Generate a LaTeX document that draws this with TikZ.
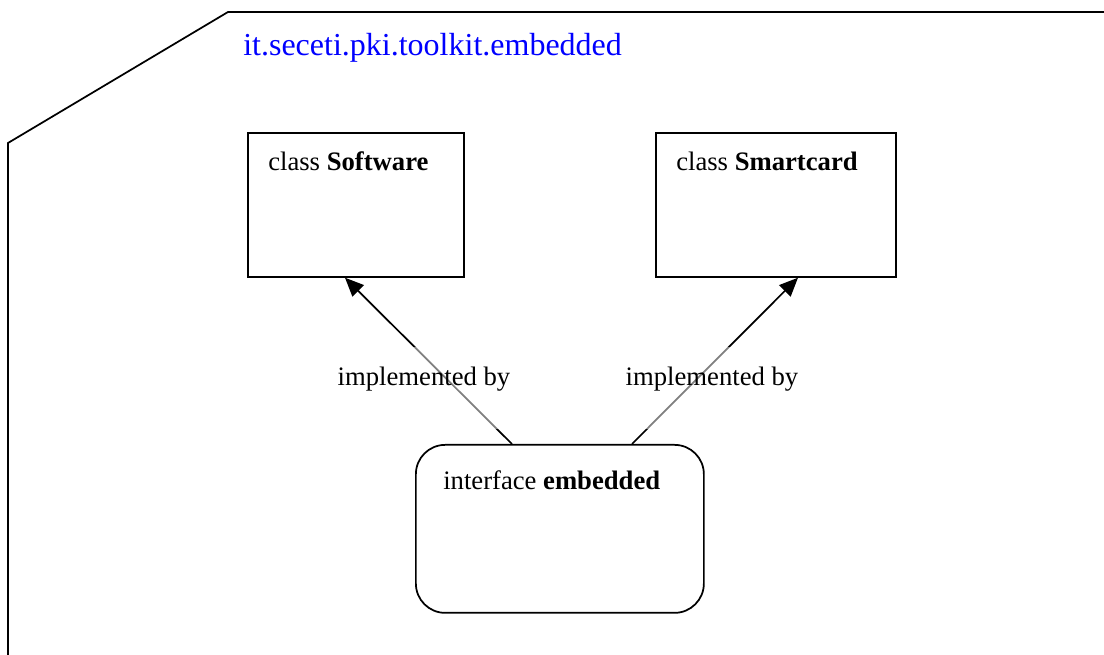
\documentclass[tikz,border=0pt]{standalone}
\usepackage{fontspec}
\setmainfont{Liberation Serif}
\usetikzlibrary{arrows.meta,calc}
\definecolor{pkgblue}{RGB}{0,0,255}
\tikzset{
  umlbox/.style={draw,line width=1.3pt,anchor=north west,inner sep=0pt},
  boxtitle/.style={anchor=base west,inner sep=0pt,font=\fontsize{20}{24}\selectfont},
  impl/.style={-{Triangle[length=14pt,width=12pt]},line width=1.3pt},
  impllabel/.style={anchor=base,fill=white,fill opacity=0.5,text opacity=1,inner sep=0pt,
    text height=29pt,text depth=32pt,font=\fontsize{20}{24}\selectfont}
}
\begin{document}
\begin{tikzpicture}[x=0.75pt,y=-0.75pt]
 \useasboundingbox (0,0) rectangle (1104,655);
 % package frame
 \draw[line width=1.3pt] (8,670)--(8,143)--(228,12)--(1110,12);
 \node[anchor=base west,inner sep=0pt,text=pkgblue,font=\fontsize{24}{28}\selectfont]
   (pkg) at (243,56) {it.seceti.pki.toolkit.embedded};
 % classes
 \node[umlbox,minimum width=162pt,minimum height=108pt] (soft) at (247,132) {};
 \node[boxtitle] (softname) at (268,171) {class \textbf{Software}};
 \node[umlbox,minimum width=180pt,minimum height=108pt] (card) at (655,132) {};
 \node[boxtitle] (cardname) at (676,171) {class \textbf{Smartcard}};
 % interface
 \node[umlbox,rounded corners=22pt,minimum width=216pt,minimum height=126pt] (iface) at (415,444) {};
 \node[boxtitle] (ifacename) at (443,490) {interface \textbf{embedded}};
 % implemented by
 \coordinate (softend) at ($(soft.south west)+(98,0)$);
 \coordinate (cardend) at ($(card.south west)+(143,0)$);
 \coordinate (ifaceleft) at ($(iface.north west)+(97,0)$);
 \coordinate (ifaceright) at ($(iface.north west)+(217,0)$);
 \draw[impl] (ifaceleft)--(softend);
 \draw[impl] (ifaceright)--(cardend);
 \node[impllabel] (impl1) at (424,386) {implemented by};
 \node[impllabel] (impl2) at (712,386) {implemented by};
\end{tikzpicture}
\end{document}
